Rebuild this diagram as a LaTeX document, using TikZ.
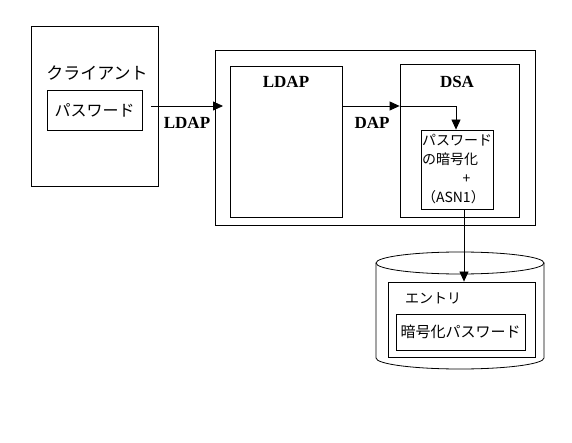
\documentclass[tikz,border=0pt]{standalone}
\usepackage{fontspec}
\setmainfont{Liberation Serif}
\newfontfamily\jp{Noto Sans CJK JP}
\usetikzlibrary{arrows.meta, positioning}

\begin{document}
\begin{tikzpicture}[x=1pt, y=-1pt, line width=0.8pt]

% Styles
        \tikzstyle{box}=[rectangle, draw, inner sep=0pt]
        \tikzstyle{jplabel}=[font=\jp\fontsize{16}{18}\selectfont, inner sep=0pt]
        \tikzstyle{label}=[font=\fontsize{17}{19}\selectfont\bfseries, inner sep=0pt]
        \tikzstyle{arrow}=[-{Triangle[length=10pt, width=9pt]}]

        \useasboundingbox (0,0) rectangle (572,443);

% Nodes
% Client
        \node[box, minimum width=127pt, minimum height=160pt] (client) at (94.5,106) {};
        \node[jplabel, font=\jp\fontsize{17}{19}\selectfont] (clientlabel) at (97,73) {クライアント};
        \node[box, jplabel, minimum width=95pt, minimum height=40pt] (pw) at (94.5,110) {パスワード};

% Server
        \node[box, minimum width=320pt, minimum height=175pt] (server) at (375,137.5) {};

% LDAP
        \node[box, minimum width=112pt, minimum height=151pt] (ldap) at (286,141.5) {};
        \node[label] (ldaplabel) at (286,82) {LDAP};

% DSA
        \node[box, minimum width=119pt, minimum height=153pt] (dsa) at (459.5,140.5) {};
        \node[label] (dsalabel) at (457,82) {DSA};

% Encryption
        \node[box, minimum width=72pt, minimum height=79pt, align=left,
              font=\jp\fontsize{14}{19}\selectfont] (enc) at (457,169.5)
              {パスワード\\の暗号化\\\hspace{2.9em}+\\（ASN1）};

% Database
        \coordinate (dbtop) at (460,263);
        \coordinate (dbbottom) at (460,358);
        \draw (dbtop) ellipse [x radius=84, y radius=11];
        \draw ([xshift=-84pt]dbtop) -- ([xshift=-84pt]dbbottom)
              arc[start angle=180, end angle=0, x radius=84, y radius=11]
              -- ([xshift=84pt]dbtop);

% Entry
        \node[box, minimum width=147pt, minimum height=75pt] (entry) at (461.5,319.5) {};
        \node[jplabel, font=\jp\fontsize{14}{16}\selectfont] (entrylabel) at (433,298) {エントリ};
        \node[box, jplabel, font=\jp\fontsize{15}{17}\selectfont, minimum width=129pt, minimum height=36pt] (encpw) at (460.5,332) {暗号化パスワード};

% Connections
        \coordinate (ldapin) at (151,106);
        \coordinate (ldapend) at (223,106);
        \draw[arrow] (ldapin) -- (ldapend);
        \draw[arrow] (ldap.east |- ldapend) -- (dsa.west |- ldapend);
        \draw[arrow] (dsa.west |- ldapend) -| ([xshift=-1pt]enc.north);
        \draw[arrow] ([xshift=7pt]enc.south) -- ([xshift=7pt]enc.south |- entry.north);

% Labels
        \node[label] at (187,123) {LDAP};
        \node[label] at (372,123) {DAP};

\end{tikzpicture}
\end{document}
